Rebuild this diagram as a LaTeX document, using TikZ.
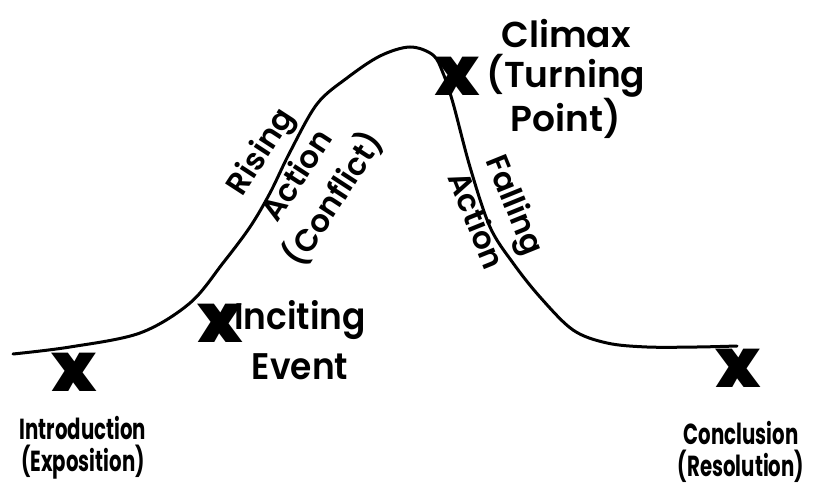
\documentclass[tikz,border=0pt]{standalone}
\usepackage{fontspec}
\setmainfont{Poppins}
\newfontfamily\pmed{Poppins SemiBold}
\newfontfamily\pblack{Poppins Black}
\usepackage{graphicx}
\begin{document}
\begin{tikzpicture}[x=1pt,y=-1pt,
  xmark/.style={inner sep=0pt,font=\fontsize{68}{68}\selectfont\pblack},
  biglabel/.style={inner sep=0pt,align=center},
  endlabel/.style={inner sep=0pt,align=center},
  curveline/.style={line width=3pt,line cap=round}]
\useasboundingbox (0,0) rectangle (825,487);
\draw[curveline] plot[smooth,tension=0.55] coordinates {(13,354) (70,347) (140,333) (190,303) (223,263) (250,227) (270,193) (290,152) (317,104) (347,78) (380,56) (410,47) (433,55) (443,73) (453,103) (470,167) (490,227) (513,263) (540,297) (573,330) (607,343) (647,347) (697,347) (737,346)};
% X marks
\node[xmark] (x1) at (74,372) {x};
\node[xmark] (x2) at (220,323) {x};
\node[xmark] (x3) at (457,76) {x};
\node[xmark] (x4) at (738,368) {x};
% labels
\node[endlabel] (intro) at (83,449) {\scalebox{0.68}[1]{\fontsize{29}{32}\selectfont\bfseries\begin{tabular}{@{}c@{}}Introduction\\[-4pt](Exposition)\end{tabular}}};
\node[endlabel] (concl) at (741,454) {\scalebox{0.68}[1]{\fontsize{29}{32}\selectfont\bfseries\begin{tabular}{@{}c@{}}Conclusion\\[-4pt](Resolution)\end{tabular}}};
\node[biglabel,font=\fontsize{37}{50}\selectfont\pmed] (incit) at (300,340) {\scalebox{0.93}[1]{Inciting}\\\scalebox{0.93}[1]{Event}};
\node[biglabel,font=\fontsize{36}{40}\selectfont\pmed] (climax) at (566,79) {Climax\\(Turning\\Point)};
\node[biglabel,font=\fontsize{31}{44}\selectfont\pmed,rotate=57] (rising) at (298,176) {Rising\\Action\\(Conflict)};
\node[biglabel,font=\fontsize{31}{42}\selectfont\pmed,rotate=-68] (falling) at (497,212) {Falling\\Action};
\end{tikzpicture}
\end{document}
